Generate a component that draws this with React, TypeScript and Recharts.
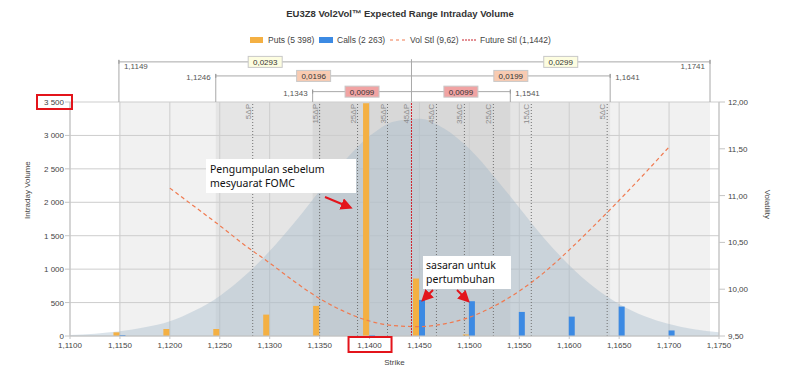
import React from 'react';
import {
  ComposedChart,
  Area,
  Bar,
  Line,
  XAxis,
  YAxis,
  CartesianGrid,
  ReferenceArea,
  ReferenceLine,
} from 'recharts';

// strikes on a 0.0025 grid, used by the expected-range curve
const curveStrikes = [
  1.11, 1.1125, 1.115, 1.1175, 1.12, 1.1225, 1.125, 1.1275, 1.13, 1.1325, 1.135, 1.1375, 1.14, 1.1425,
  1.145, 1.1475, 1.15, 1.1525, 1.155, 1.1575, 1.16, 1.1625, 1.165, 1.1675, 1.17, 1.1725, 1.175,
];
const expectedVolume = [
  15, 35, 70, 130, 220, 380, 600, 900, 1270, 1700, 2170, 2620, 2990, 3210,
  3250, 3100, 2800, 2380, 1920, 1460, 1060, 730, 480, 300, 180, 100, 55,
];

const barStrikes = [1.115, 1.12, 1.125, 1.13, 1.135, 1.14, 1.145, 1.15, 1.155, 1.16, 1.165, 1.17];
const putVolume = [55, 105, 105, 320, 450, 3480, 860, 23, null, null, null, null];
const callVolume = [15, null, null, null, null, 15, 540, 520, 360, 290, 440, 83];

const volStrikes = [
  1.12, 1.1225, 1.125, 1.1275, 1.13, 1.1325, 1.135, 1.1375, 1.14, 1.1425, 1.145,
  1.1475, 1.15, 1.1525, 1.155, 1.1575, 1.16, 1.1625, 1.165, 1.1675, 1.17,
];
const volatility = [
  11.08, 10.88, 10.68, 10.47, 10.28, 10.08, 9.9, 9.76, 9.66, 9.61, 9.6,
  9.63, 9.7, 9.82, 9.98, 10.18, 10.42, 10.68, 10.95, 11.23, 11.52,
];

const xTicks = [
  1.11, 1.115, 1.12, 1.125, 1.13, 1.135, 1.14, 1.145, 1.15, 1.155, 1.16, 1.165, 1.17, 1.175,
];
const volumeTicks = [0, 500, 1000, 1500, 2000, 2500, 3000, 3500];
const volTicks = [9.5, 10, 10.5, 11, 11.5, 12];

const putsTotal = 5398;
const callsTotal = 2263;
const volSettle = 9.62;
const futureSettle = 1.1442;

// expected ranges (3, 2, 1 sd) around the future settle
const rangeLow = [1.1149, 1.1246, 1.1343];
const rangeHigh = [1.1741, 1.1641, 1.1541];

const deltaStrikes = [1.1283, 1.135, 1.1388, 1.1418, 1.1442, 1.1467, 1.1495, 1.1524, 1.1562, 1.1638];
const deltaLabels = ['5ΔP', '15ΔP', '25ΔP', '35ΔP', '45ΔP', '45ΔC', '35ΔC', '25ΔC', '15ΔC', '5ΔC'];

// row heights of the range brackets above the plot, in volume units
const rowLevel = [4100, 3890, 3655];
const boxFill = ['#fdfde0', '#f8cbb2', '#f1a3a3'];
const bandFill = ['#f1f1f1', '#e5e5e5', '#d8d8d8'];

const key = (v: number) => v.toFixed(4);
const fmtStrike = (v: number) => v.toFixed(4).replace('.', ',');
const fmtVolume = (v: number) =>
  v >= 1000 ? `${Math.floor(v / 1000)} ${String(v % 1000).padStart(3, '0')}` : String(v);

const data = curveStrikes.map((s, i) => {
  const b = barStrikes.findIndex((x) => key(x) === key(s));
  const v = volStrikes.findIndex((x) => key(x) === key(s));
  return {
    strike: s,
    bell: expectedVolume[i],
    puts: b >= 0 ? putVolume[b] : null,
    calls: b >= 0 ? callVolume[b] : null,
    vol: v >= 0 ? volatility[v] : null,
  };
});

const LeftTick = ({ x, y, payload }: any) => (
  <g>
    <text x={x} y={y} dy={3} textAnchor="end" fontSize={8} fill="#444">
      {fmtVolume(payload.value)}
    </text>
    {payload.value === 3500 && (
      <rect x={x - 27} y={y - 7} width={35} height={14} fill="none" stroke="#e3141b" strokeWidth={2} />
    )}
  </g>
);

const RightTick = ({ x, y, payload }: any) => (
  <text x={x} y={y} dy={3} textAnchor="start" fontSize={8} fill="#444">
    {payload.value.toFixed(2).replace('.', ',')}
  </text>
);

const BottomTick = ({ x, y, payload }: any) => (
  <g>
    <text x={x} y={y} dy={7} textAnchor="middle" fontSize={8} fill="#444">
      {fmtStrike(payload.value)}
    </text>
    {key(payload.value) === key(1.14) && (
      <rect x={x - 21} y={y - 4} width={43} height={15} fill="none" stroke="#e3141b" strokeWidth={2} />
    )}
  </g>
);

function rangeLabel(row: number, side: 'left' | 'right') {
  return (p: any) => {
    const { x = 0, y = 0, width = 0 } = p.viewBox || {};
    const cx = x + width / 2;
    const width1 =
      side === 'left' ? futureSettle - rangeLow[row] : rangeHigh[row] - futureSettle;
    const endVal = side === 'left' ? rangeLow[row] : rangeHigh[row];
    let tx = 0;
    let ty = y + 3;
    let anchor: 'start' | 'end' = 'start';
    if (row === 0) {
      tx = side === 'left' ? x + 5 : x + width - 5;
      ty = y + 7;
      anchor = side === 'left' ? 'start' : 'end';
    } else {
      tx = side === 'left' ? x - 5 : x + width + 5;
      ty = y + 4;
      anchor = side === 'left' ? 'end' : 'start';
    }
    const ex = side === 'left' ? x : x + width;
    return (
      <g>
        <line x1={ex} x2={ex} y1={y - 2} y2={y + 2} stroke="#999" />
        <rect x={cx - 17} y={y - 5.5} width={34} height={11} fill={boxFill[row]} stroke="#c8c8c8" />
        <text x={cx} y={y + 3} textAnchor="middle" fontSize={8} fill="#333">
          {width1.toFixed(4).replace('.', ',')}
        </text>
        <text x={tx} y={ty} textAnchor={anchor} fontSize={8} fill="#555">
          {fmtStrike(endVal)}
        </text>
      </g>
    );
  };
}

function deltaLabel(label: string) {
  return (p: any) => {
    const { x = 0, y = 0 } = p.viewBox || {};
    return (
      <text
        x={x - 2}
        y={y + 2}
        transform={`rotate(-90 ${x - 2} ${y + 2})`}
        textAnchor="end"
        fontSize={8}
        fill="#8a8a8a"
      >
        {label}
      </text>
    );
  };
}

function Overlay() {
  return (
    <svg
      width={800}
      height={369}
      style={{ position: 'absolute', left: 0, top: 0, pointerEvents: 'none' }}
    >
      <defs>
        <marker id="arrowHead" markerWidth="6" markerHeight="6" refX="4" refY="3" orient="auto">
          <path d="M0,0 L6,3 L0,6 z" fill="#e3141b" />
        </marker>
      </defs>
      <text x={400} y={17} textAnchor="middle" fontSize={9.5} fontWeight="bold" fill="#333">
        EU3Z8 Vol2Vol™ Expected Range Intraday Volume
      </text>
      <g fontSize={8.5} fill="#444">
        <rect x={250} y={37} width={13} height={6} fill="#f4b043" />
        <text x={268} y={43}>{`Puts (${fmtVolume(putsTotal)})`}</text>
        <rect x={319} y={37} width={14} height={6} fill="#3c8ae3" />
        <text x={337} y={43}>{`Calls (${fmtVolume(callsTotal)})`}</text>
        <line x1={390} x2={407} y1={40} y2={40} stroke="#f07a50" strokeDasharray="3 3" />
        <text x={410} y={43}>{`Vol Stl (${volSettle.toFixed(2).replace('.', ',')})`}</text>
        <line x1={462} x2={477} y1={40} y2={40} stroke="#c8202a" strokeDasharray="2 1" />
        <text x={480} y={43}>{`Future Stl (${fmtStrike(futureSettle)})`}</text>
      </g>

      <g fontFamily="'Noto Sans', 'Open Sans', sans-serif" fontSize={10.5} fill="#111">
        <rect x={206} y={159} width={150} height={34} fill="#fff" />
        <text x={210} y={173}>Pengumpulan sebelum</text>
        <text x={210} y={187}>mesyuarat FOMC</text>
        <rect x={423} y={256} width={88} height={33} fill="#fff" />
        <text x={426} y={269}>sasaran untuk</text>
        <text x={426} y={283}>pertumbuhan</text>
      </g>
      <g stroke="#e3141b" strokeWidth={2} markerEnd="url(#arrowHead)">
        <line x1={325} y1={197} x2={349} y2={207} />
        <line x1={433} y1={290} x2={424} y2={299} />
        <line x1={457} y1={290} x2={467} y2={300} />
      </g>
    </svg>
  );
}

export default function App() {
  return (
    <div
      style={{
        position: 'absolute',
        left: 0,
        top: 0,
        width: 800,
        height: 369,
        background: '#fff',
        fontFamily: "'Liberation Sans', Arial, sans-serif",
      }}
    >
      <ComposedChart
        width={800}
        height={369}
        data={data}
        margin={{ top: 102, right: 26, bottom: 3, left: 25 }}
        barGap={0}
      >
        <ReferenceArea yAxisId="left" x1={rangeLow[0]} x2={rangeHigh[0]} fill={bandFill[0]} fillOpacity={1} zIndex={-300} />
        <ReferenceArea yAxisId="left" x1={rangeLow[1]} x2={rangeHigh[1]} fill={bandFill[1]} fillOpacity={1} zIndex={-290} />
        <ReferenceArea yAxisId="left" x1={rangeLow[2]} x2={rangeHigh[2]} fill={bandFill[2]} fillOpacity={1} zIndex={-280} />
        <CartesianGrid yAxisId="left" stroke="#cdcdcd" />
        <XAxis
          dataKey="strike"
          type="number"
          domain={[1.11, 1.175]}
          ticks={xTicks}
          interval={0}
          tick={<BottomTick />}
          tickSize={3}
          tickMargin={2}
          height={30}
          stroke="#c4c4c4"
          label={{ value: 'Strike', position: 'insideBottom', offset: 1, fontSize: 8, fill: '#444' }}
        />
        <YAxis
          yAxisId="left"
          domain={[0, 3500]}
          ticks={volumeTicks}
          interval={0}
          tick={<LeftTick />}
          tickSize={5}
          tickMargin={1}
          width={45}
          stroke="#c4c4c4"
          label={{ value: 'Intraday Volume', angle: -90, position: 'insideLeft', offset: 2, fontSize: 8, fill: '#444' }}
        />
        <YAxis
          yAxisId="right"
          orientation="right"
          domain={[9.5, 12]}
          ticks={volTicks}
          interval={0}
          tick={<RightTick />}
          tickSize={6}
          tickMargin={3}
          width={55}
          stroke="#c4c4c4"
          label={{ value: 'Volatility', angle: 90, position: 'insideRight', offset: 6, fontSize: 8, fill: '#444' }}
        />
        <Area
          yAxisId="left"
          type="monotone"
          dataKey="bell"
          stroke="none"
          fill="#9fb5c8"
          fillOpacity={0.38}
          isAnimationActive={false}
        />
        <Bar yAxisId="left" dataKey="puts" fill="#f4b043" barSize={6} isAnimationActive={false} />
        <Bar yAxisId="left" dataKey="calls" fill="#3c8ae3" barSize={6} isAnimationActive={false} />
        <Line
          yAxisId="right"
          type="monotone"
          dataKey="vol"
          stroke="#f07a50"
          strokeWidth={1.2}
          strokeDasharray="4 3"
          dot={false}
          isAnimationActive={false}
        />
        {deltaStrikes.map((s, i) => (
          <ReferenceLine
            key={deltaLabels[i]}
            yAxisId="left"
            x={s}
            stroke={key(s) === key(futureSettle) ? '#d0202a' : '#707070'}
            strokeDasharray={key(s) === key(futureSettle) ? '2 1' : '1 2'}
            strokeWidth={1}
            label={deltaLabel(deltaLabels[i])}
          />
        ))}
        {rowLevel.map((lvl, r) => (
          <ReferenceLine
            key={`vl${r}`}
            yAxisId="left"
            segment={[{ x: rangeLow[r], y: lvl + 30 }, { x: rangeLow[r], y: 3500 }]}
            ifOverflow="visible"
            stroke="#a8a8a8"
          />
        ))}
        {rowLevel.map((lvl, r) => (
          <ReferenceLine
            key={`vr${r}`}
            yAxisId="left"
            segment={[{ x: rangeHigh[r], y: lvl + 30 }, { x: rangeHigh[r], y: 3500 }]}
            ifOverflow="visible"
            stroke="#a8a8a8"
          />
        ))}
        <ReferenceLine
          yAxisId="left"
          segment={[{ x: futureSettle, y: rowLevel[0] + 40 }, { x: futureSettle, y: 3500 }]}
          ifOverflow="visible"
          stroke="#a8a8a8"
        />
        {rowLevel.map((lvl, r) => (
          <ReferenceLine
            key={`rl${r}`}
            yAxisId="left"
            segment={[{ x: rangeLow[r], y: lvl }, { x: futureSettle, y: lvl }]}
            ifOverflow="visible"
            stroke="#a8a8a8"
            label={rangeLabel(r, 'left')}
          />
        ))}
        {rowLevel.map((lvl, r) => (
          <ReferenceLine
            key={`rr${r}`}
            yAxisId="left"
            segment={[{ x: futureSettle, y: lvl }, { x: rangeHigh[r], y: lvl }]}
            ifOverflow="visible"
            stroke="#a8a8a8"
            label={rangeLabel(r, 'right')}
          />
        ))}
      </ComposedChart>
      <Overlay />
    </div>
  );
}
